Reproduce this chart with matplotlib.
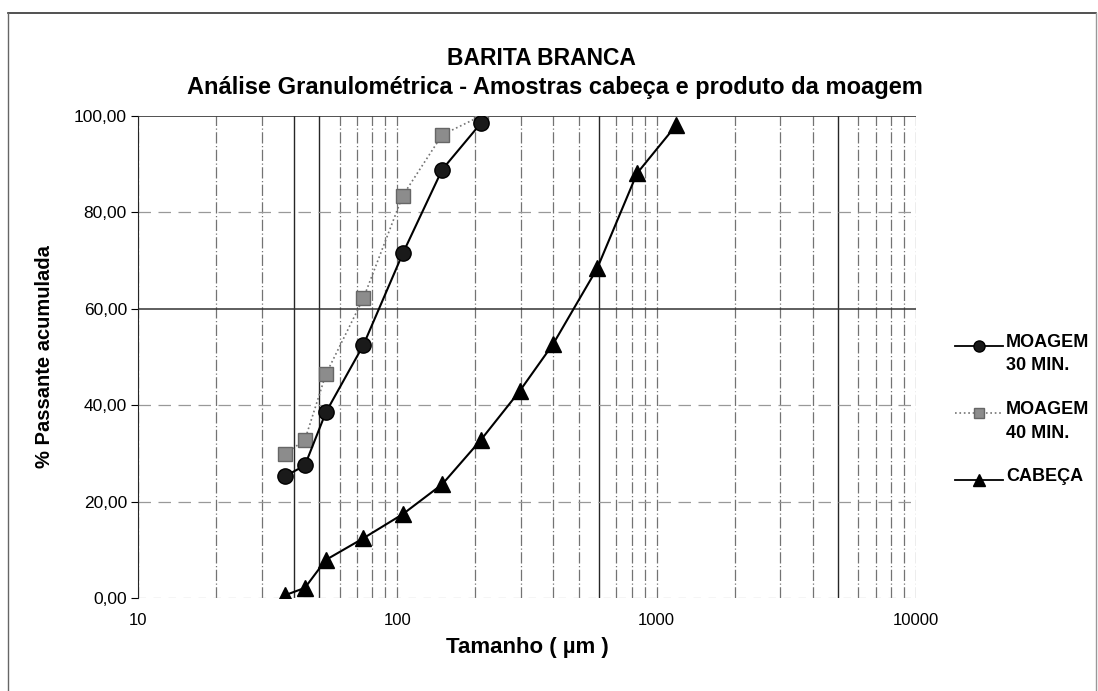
# Barita branca - curvas granulometricas
import matplotlib.pyplot as plt
from matplotlib.ticker import FixedLocator, FuncFormatter, NullFormatter
import numpy as np

plt.rcParams['font.family'] = ['Liberation Sans', 'DejaVu Sans']

tam_moagem = [37, 44, 53, 74, 105, 149, 210]
moagem30 = [25.3, 27.5, 38.5, 52.5, 71.5, 88.9, 98.5]
moagem40 = [29.9, 32.8, 46.4, 62.2, 83.5, 96.1, 100.0]

tam_cabeca = [37, 44, 53, 74, 105, 149, 210, 297, 400, 590, 840, 1190]
cabeca = [0.6, 2.1, 7.9, 12.4, 17.4, 23.6, 32.8, 43.0, 52.8, 68.4, 88.1, 98.1]

series = ['MOAGEM\n30 MIN.', 'MOAGEM\n40 MIN.', 'CABEÇA']

fig = plt.figure(figsize=(10.98, 6.91), dpi=100)
ax = fig.add_axes([0.1257, 0.1346, 0.7085, 0.6975])

W, H = 1098.0, 691.0

# moldura da figura
fig.add_artist(plt.Line2D([0.007, 0.998], [0.981, 0.981], transform=fig.transFigure, color='0.2', lw=1.2))
fig.add_artist(plt.Line2D([0.007, 0.007], [0.0, 0.981], transform=fig.transFigure, color='0.4', lw=1))
fig.add_artist(plt.Line2D([0.998, 0.998], [0.0, 0.981], transform=fig.transFigure, color='0.6', lw=1))

ax.set_xscale('log')
ax.set_xlim(10, 10000)
ax.set_ylim(0, 100)

# grade vertical
minors = [m * 10**e for e in range(1, 4) for m in range(2, 10)]
for v in minors:
    dark = v in (40, 50, 600, 5000)
    ax.axvline(v, color='0.15' if dark else '0.45', lw=1.0 if dark else 0.9,
               ls='-' if dark else (0, (9, 2, 1, 2)), zorder=0)
for v in (10, 100, 1000, 10000):
    ax.axvline(v, color='0.45', lw=0.9, ls=(0, (9, 2, 1, 2)), zorder=0)

# grade horizontal
for h in (20, 40, 80):
    ax.axhline(h, color='0.6', lw=0.9, ls=(0, (10, 6)), zorder=0)
ax.axhline(60, color='0.2', lw=1.1, zorder=0)
ax.axhline(100, color='0.2', lw=1.2, zorder=0)
ax.axhline(0, color='0.7', lw=0.9, ls=(0, (6, 6)), zorder=0)

for s in ('top', 'right', 'bottom'):
    ax.spines[s].set_visible(False)
ax.spines['left'].set_color('0.15')

ax.xaxis.set_major_locator(FixedLocator([10, 100, 1000, 10000]))
ax.xaxis.set_minor_formatter(NullFormatter())
ax.xaxis.set_major_formatter(FuncFormatter(lambda v, p: '%d' % v))
ax.tick_params(axis='x', which='both', length=0, pad=11, labelsize=12)
ax.set_yticks([0, 20, 40, 60, 80, 100])
ax.yaxis.set_major_formatter(FuncFormatter(lambda v, p: ('%.2f' % v).replace('.', ',')))
ax.tick_params(axis='y', length=5, width=0.8, pad=3, labelsize=12.5)

ax.plot(tam_moagem, moagem30, '-', color='black', lw=1.5, marker='o', ms=11,
        mfc='0.1', mec='black', zorder=4)
ax.plot(tam_moagem, moagem40, ':', color='0.45', lw=1.2, marker='s', ms=9.5,
        mfc='0.55', mec='0.4', zorder=3)
ax.plot(tam_cabeca, cabeca, '-', color='black', lw=1.5, marker='^', ms=11.5,
        mfc='black', mec='black', zorder=4)

fig.text(0.493, 0.916, 'BARITA BRANCA', ha='center', va='center', fontsize=16.5, fontweight='bold')
fig.text(0.505, 0.873, 'Análise Granulométrica - Amostras cabeça e produto da moagem',
         ha='center', va='center', fontsize=17, fontweight='bold')
ax.set_xlabel('Tamanho ( µm )', fontsize=16, fontweight='bold', labelpad=6)
ax.set_ylabel('% Passante acumulada', fontsize=14.5, fontweight='bold', labelpad=14)

# legenda (estilo Excel: simbolo alinhado com a primeira linha)
leg_y = [343, 410, 477]
leg_style = [dict(ls='-', color='black', marker='o', ms=8, mfc='0.1', mec='black', lw=1.3),
             dict(ls=':', color='0.45', marker='s', ms=7, mfc='0.55', mec='0.4', lw=1.2),
             dict(ls='-', color='black', marker='^', ms=9, mfc='black', mec='black', lw=1.3)]
for lab, yy, st in zip(series, leg_y, leg_style):
    y0 = 1 - (yy + 3) / H
    fig.add_artist(plt.Line2D([955 / W, 1003 / W], [y0, y0], transform=fig.transFigure, **{k: v for k, v in st.items() if k not in ('marker', 'ms', 'mfc', 'mec')}))
    fig.add_artist(plt.Line2D([979 / W], [y0], transform=fig.transFigure, ls='none',
                              marker=st['marker'], ms=st['ms'], mfc=st['mfc'], mec=st['mec']))
    fig.text(1006 / W, 1 - (yy - 9) / H, lab, ha='left', va='top', fontsize=13,
             fontweight='bold', linespacing=1.5)

fig.savefig('out.png', dpi=100)
